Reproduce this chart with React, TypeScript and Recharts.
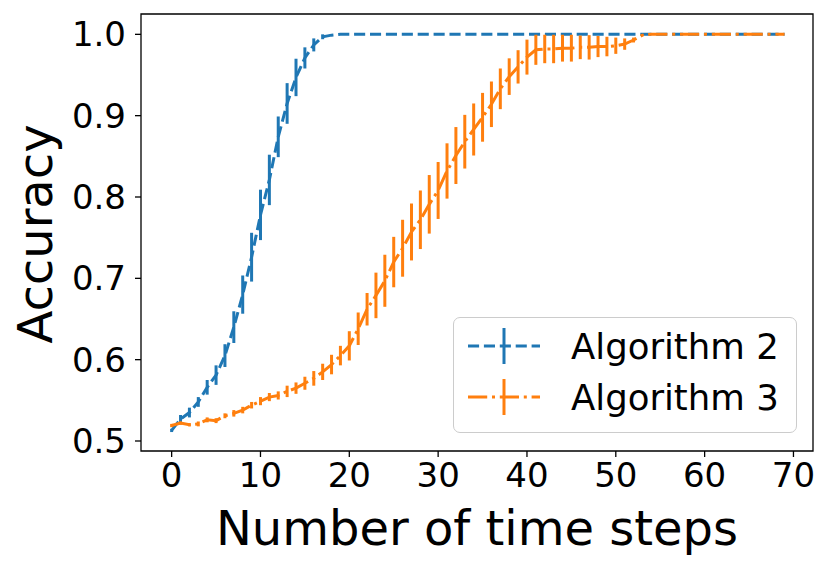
import React from 'react'
import { ComposedChart, Line, XAxis, YAxis, ErrorBar, ReferenceArea, Legend, Label } from 'recharts'

// mean accuracy per time step
const alg2Acc = [
  0.513, 0.527, 0.535, 0.548, 0.566, 0.581, 0.605, 0.64, 0.68, 0.726,
  0.778, 0.821, 0.874, 0.915, 0.947, 0.971, 0.987, 0.997, 0.999, 1.0,
  1.0, 1.0, 1.0, 1.0, 1.0, 1.0, 1.0, 1.0, 1.0, 1.0,
  1.0, 1.0, 1.0, 1.0, 1.0, 1.0, 1.0, 1.0, 1.0, 1.0,
  1.0, 1.0, 1.0, 1.0, 1.0, 1.0, 1.0, 1.0, 1.0, 1.0,
  1.0, 1.0, 1.0, 1.0, 1.0, 1.0, 1.0, 1.0, 1.0, 1.0,
  1.0, 1.0, 1.0, 1.0, 1.0, 1.0, 1.0, 1.0, 1.0, 1.0,
]
const alg2Err = [
  0.002, 0.005, 0.006, 0.006, 0.009, 0.012, 0.014, 0.0195, 0.0235, 0.03,
  0.031, 0.031, 0.025, 0.025, 0.023, 0.013, 0.008, 0.003, 0.001, 0,
  0, 0, 0, 0, 0, 0, 0, 0, 0, 0,
  0, 0, 0, 0, 0, 0, 0, 0, 0, 0,
  0, 0, 0, 0, 0, 0, 0, 0, 0, 0,
  0, 0, 0, 0, 0, 0, 0, 0, 0, 0,
  0, 0, 0, 0, 0, 0, 0, 0, 0, 0,
]
const alg3Acc = [
  0.519, 0.522, 0.52, 0.521, 0.526, 0.525, 0.531, 0.534, 0.538, 0.544,
  0.549, 0.554, 0.556, 0.561, 0.565, 0.571, 0.577, 0.585, 0.594, 0.605,
  0.617, 0.638, 0.662, 0.679, 0.697, 0.72, 0.737, 0.757, 0.772, 0.791,
  0.808, 0.832, 0.851, 0.868, 0.883, 0.898, 0.914, 0.933, 0.948, 0.96,
  0.972, 0.981, 0.982, 0.982, 0.983, 0.983, 0.984, 0.984, 0.985, 0.985,
  0.986, 0.988, 0.993, 0.999, 1.0, 1.0, 1.0, 1.0, 1.0, 1.0,
  1.0, 1.0, 1.0, 1.0, 1.0, 1.0, 1.0, 1.0, 1.0, 1.0,
]
const alg3Err = [
  0.002, 0.002, 0.002, 0.003, 0.003, 0.003, 0.003, 0.004, 0.004, 0.004,
  0.005, 0.005, 0.005, 0.007, 0.007, 0.008, 0.009, 0.01, 0.012, 0.012,
  0.018, 0.02, 0.02, 0.028, 0.032, 0.031, 0.035, 0.035, 0.036, 0.036,
  0.035, 0.034, 0.035, 0.033, 0.032, 0.03, 0.028, 0.025, 0.0225, 0.0205,
  0.0215, 0.0185, 0.0175, 0.0175, 0.0165, 0.0165, 0.0145, 0.015, 0.013, 0.012,
  0.01, 0.007, 0.003, 0.001, 0, 0, 0, 0, 0, 0,
  0, 0, 0, 0, 0, 0, 0, 0, 0, 0,
]

const xTicks = [0, 10, 20, 30, 40, 50, 60, 70]
const yTicks = [0.5, 0.6, 0.7, 0.8, 0.9, 1.0]

const series = [
  { name: 'Algorithm 2', color: '#1f77b4', dash: '11.1 4.8' },
  { name: 'Algorithm 3', color: '#ff7f0e', dash: '19.2 4.8 3 4.8' },
]

const data = alg2Acc.map((v, i) => ({
  step: i,
  alg2: v,
  alg2Err: alg2Err[i],
  alg3: alg3Acc[i],
  alg3Err: alg3Err[i],
}))

const X_DOMAIN: [number, number] = [-3.45, 72.2]
const Y_DOMAIN: [number, number] = [0.4877, 1.025]
const FONT = 'DejaVu Sans, sans-serif'

const XTick = ({ x, y, payload }: any) => (
  <text x={x} y={y} dy={29.5} textAnchor="middle" fontSize={34} fontFamily={FONT} fill="#000">
    {payload.value}
  </text>
)

const YTick = ({ x, y, payload }: any) => (
  <text x={x - 9} y={y} dy={12} textAnchor="end" fontSize={34} fontFamily={FONT} fill="#000">
    {Number(payload.value).toFixed(1)}
  </text>
)

const LegendBox = () => (
  <div
    style={{
      width: 344,
      height: 116,
      boxSizing: 'border-box',
      border: '1.5px solid #cccccc',
      borderRadius: 7,
      background: 'rgba(255,255,255,0.8)',
    }}
  >
    <svg width={341} height={113} style={{ display: 'block' }}>
      {series.map((s, i) => {
        const base = 40.5 + i * 51
        const ly = base - 12.5
        return (
          <g key={s.name}>
            <line x1={14} x2={86} y1={ly} y2={ly} stroke={s.color} strokeWidth={3} strokeDasharray={s.dash} />
            <line x1={50} x2={50} y1={ly - 18} y2={ly + 18} stroke={s.color} strokeWidth={3} />
            <text x={117} y={base} fontSize={35.5} fontFamily={FONT} fill="#000">
              {s.name}
            </text>
          </g>
        )
      })}
    </svg>
  </div>
)

export default function App() {
  return (
    <ComposedChart
      width={822}
      height={562}
      data={data}
      margin={{ top: 6, right: 17, bottom: 0, left: 0 }}
    >
      <XAxis
        dataKey="step"
        type="number"
        domain={X_DOMAIN}
        allowDataOverflow
        ticks={xTicks}
        axisLine={false}
        tickLine={{ stroke: '#000', strokeWidth: 1.3 }}
        tickSize={6}
        tickMargin={0}
        height={119}
        tick={(p: any) => <XTick {...p} />}
      >
        <Label
          content={() => (
            <text x={469} y={537} textAnchor="middle" fontSize={48} fontFamily={FONT} fill="#000">
              Number of time steps
            </text>
          )}
        />
      </XAxis>
      <YAxis
        type="number"
        domain={Y_DOMAIN}
        allowDataOverflow
        ticks={yTicks}
        axisLine={false}
        tickLine={{ stroke: '#000', strokeWidth: 1.3 }}
        tickSize={6}
        tickMargin={0}
        width={133}
        tick={(p: any) => <YTick {...p} />}
      >
        <Label
          content={() => (
            <text
              x={44}
              y={226}
              transform="rotate(-90, 44, 226)"
              textAnchor="middle"
              fontSize={48}
              fontFamily={FONT}
              fill="#000"
            >
              Accuracy
            </text>
          )}
        />
      </YAxis>
      <Line
        dataKey="alg2"
        name="Algorithm 2"
        type="linear"
        stroke="#1f77b4"
        strokeWidth={3}
        strokeDasharray="11.1 4.8"
        dot={false}
        activeDot={false}
        isAnimationActive={false}
      >
        <ErrorBar dataKey="alg2Err" direction="y" width={0} stroke="#1f77b4" strokeWidth={3} isAnimationActive={false} />
      </Line>
      <Line
        dataKey="alg3"
        name="Algorithm 3"
        type="linear"
        stroke="#ff7f0e"
        strokeWidth={3}
        strokeDasharray="19.2 4.8 3 4.8"
        dot={false}
        activeDot={false}
        isAnimationActive={false}
      >
        <ErrorBar dataKey="alg3Err" direction="y" width={0} stroke="#ff7f0e" strokeWidth={3} isAnimationActive={false} />
      </Line>
      <ReferenceArea
        x1={X_DOMAIN[0]}
        x2={X_DOMAIN[1]}
        y1={Y_DOMAIN[0]}
        y2={Y_DOMAIN[1]}
        fill="none"
        fillOpacity={0}
        stroke="#000"
        strokeWidth={1.3}
        ifOverflow="visible"
      />
      <Legend
        layout="horizontal"
        verticalAlign="middle"
        align="center"
        content={() => <LegendBox />}
        wrapperStyle={{ left: 445, top: 309, width: 344, height: 116 }}
      />
    </ComposedChart>
  )
}
